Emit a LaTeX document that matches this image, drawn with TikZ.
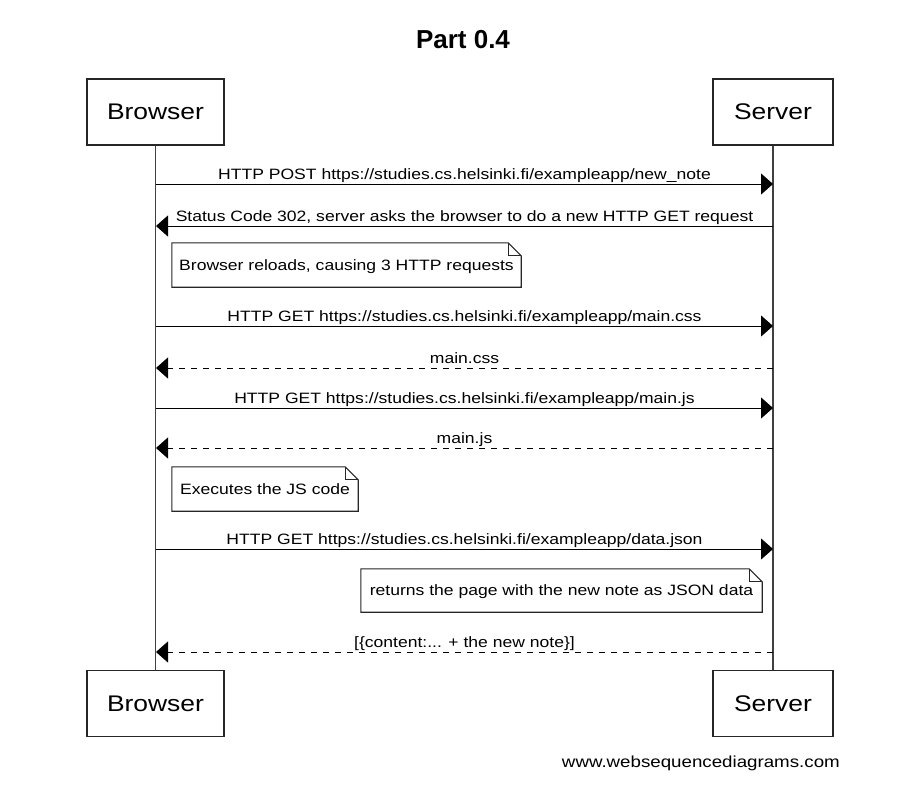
\documentclass[tikz,border=0pt]{standalone}
\usepackage{fontspec}
\setmainfont{Liberation Sans}[FakeStretch=1.17]
\newfontfamily\titlefont{Liberation Sans}
\usetikzlibrary{arrows.meta}
\begin{document}
\begin{tikzpicture}[x=1pt,y=-1pt,
  actor/.style={draw=black!85, line width=1.2pt, fill=white, minimum width=#1, minimum height=66pt, inner sep=0pt, font=\fontsize{22.6}{27}\selectfont},
  lifeline/.style={draw=black!75, line width=1.4pt},
  msg/.style={draw=black, line width=1pt, -{Triangle[length=12pt,width=21pt]}},
  reply/.style={msg, dash pattern=on 6pt off 6pt},
  lbl/.style={font=\fontsize{15}{18}\selectfont, anchor=base, inner sep=0pt, yshift=4.5pt},
  notebox/.style={minimum width=#1, minimum height=44pt, inner sep=0pt, text height=10.8pt, text depth=0pt, font=\fontsize{15}{18}\selectfont},
  noteline/.style={draw=black!85, line width=1.1pt},
  foldline/.style={draw=black!85, line width=0.8pt}
]
\fill[white] (0,0) rectangle (921,811);
\useasboundingbox (0,0) rectangle (921,811);

% title
\node[font=\titlefont\bfseries\fontsize{26}{30}\selectfont, inner sep=0pt] (title) at (463,40) {Part 0.4};

% actors
\node[actor=137pt] (bt) at (155.5,112) {Browser};
\node[actor=120pt] (st) at (773,112) {Server};
\node[actor=137pt] (bb) at (155.5,703.5) {Browser};
\node[actor=120pt] (sb) at (773,703.5) {Server};

% lifelines
\draw[lifeline] (bt.south) -- (bb.north);
\draw[lifeline] (st.south) -- (sb.north);

% message anchor points
\foreach \n/\y in {1/184,2/226,3/326,4/368,5/408,6/448,7/549,8/652}{
  \coordinate (b\n) at (156,\y);
  \coordinate (s\n) at (773,\y);
}

\draw[msg] (b1) -- (s1) node[lbl, midway] {HTTP POST https://studies.cs.helsinki.fi/exampleapp/new\_note};
\draw[msg] (s2) -- (b2) node[lbl, midway] {Status Code 302, server asks the browser to do a new HTTP GET request};

% note 1
\node[notebox=349pt] (n1) at (346.5,265) {Browser reloads, causing 3 HTTP requests};
\draw[noteline] (n1.north west) -- ([xshift=-13pt]n1.north east) -- ([yshift=-13pt]n1.north east) -- (n1.south east) -- (n1.south west) -- cycle;
\draw[foldline] ([xshift=-13pt]n1.north east) -- ([xshift=-13pt,yshift=-13pt]n1.north east) -- ([yshift=-13pt]n1.north east);

\draw[msg] (b3) -- (s3) node[lbl, midway] {HTTP GET https://studies.cs.helsinki.fi/exampleapp/main.css};
\draw[reply] (s4) -- (b4) node[lbl, midway] {main.css};
\draw[msg] (b5) -- (s5) node[lbl, midway] {HTTP GET https://studies.cs.helsinki.fi/exampleapp/main.js};
\draw[reply] (s6) -- (b6) node[lbl, midway] {main.js};

% note 2
\node[notebox=186pt] (n2) at (265,489) {Executes the JS code};
\draw[noteline] (n2.north west) -- ([xshift=-13pt]n2.north east) -- ([yshift=-13pt]n2.north east) -- (n2.south east) -- (n2.south west) -- cycle;
\draw[foldline] ([xshift=-13pt]n2.north east) -- ([xshift=-13pt,yshift=-13pt]n2.north east) -- ([yshift=-13pt]n2.north east);

\draw[msg] (b7) -- (s7) node[lbl, midway] {HTTP GET https://studies.cs.helsinki.fi/exampleapp/data.json};

% note 3
\node[notebox=401pt, minimum height=43pt] (n3) at (561.5,590.5) {returns the page with the new note as JSON data};
\draw[noteline] (n3.north west) -- ([xshift=-13pt]n3.north east) -- ([yshift=-13pt]n3.north east) -- (n3.south east) -- (n3.south west) -- cycle;
\draw[foldline] ([xshift=-13pt]n3.north east) -- ([xshift=-13pt,yshift=-13pt]n3.north east) -- ([yshift=-13pt]n3.north east);

\draw[reply] (s8) -- (b8) node[lbl, midway] {[\{content:... + the new note\}]};

% watermark
\node[font=\fontsize{16}{19}\selectfont, anchor=base east, inner sep=0pt] (wm) at (840,767) {www.websequencediagrams.com};
\end{tikzpicture}
\end{document}
